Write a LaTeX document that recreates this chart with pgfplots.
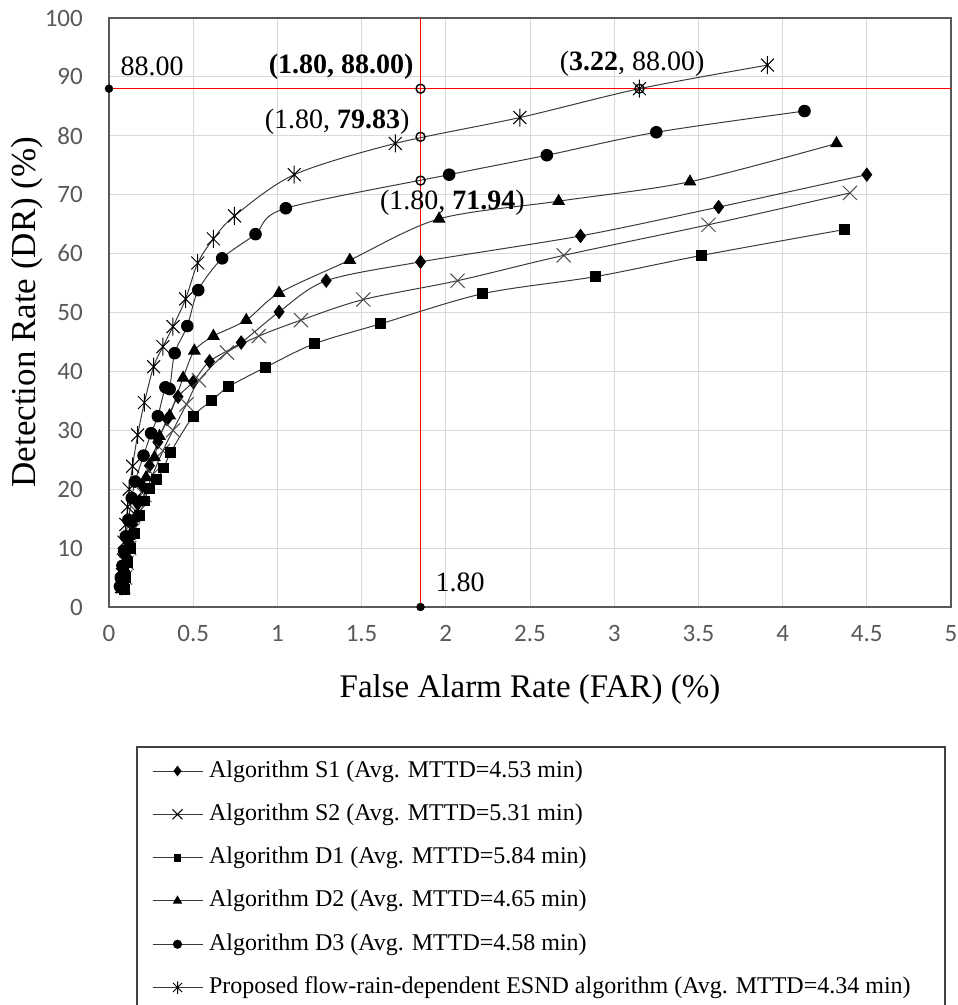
\documentclass[border=0pt]{standalone}
\usepackage{pgfplots}
\pgfplotsset{compat=1.18}
\usepackage{fontspec}
\setmainfont{Liberation Serif}
\newfontfamily\tickfont{Carlito}
\definecolor{tickgray}{HTML}{595959}
\definecolor{gridgray}{HTML}{D9D9D9}
\definecolor{linegray}{HTML}{3A3A3A}
\definecolor{framegray}{HTML}{595959}

\pgfdeclareplotmark{xstar}{%
 \pgfpathmoveto{\pgfqpoint{0pt}{\pgfplotmarksize}}%
 \pgfpathlineto{\pgfqpoint{0pt}{-\pgfplotmarksize}}%
 \pgfpathmoveto{\pgfqpoint{-.72\pgfplotmarksize}{-.72\pgfplotmarksize}}%
 \pgfpathlineto{\pgfqpoint{.72\pgfplotmarksize}{.72\pgfplotmarksize}}%
 \pgfpathmoveto{\pgfqpoint{-.72\pgfplotmarksize}{.72\pgfplotmarksize}}%
 \pgfpathlineto{\pgfqpoint{.72\pgfplotmarksize}{-.72\pgfplotmarksize}}%
 \pgfusepathqstroke}

\begin{document}
\begin{tikzpicture}
\path[use as bounding box] (-109bp,-398bp) rectangle (849bp,607bp);
\begin{axis}[
 scale only axis, width=842bp, height=589bp,
 xmin=0, xmax=5, ymin=0, ymax=100,
 xtick={0,0.5,...,5}, ytick={0,10,...,100},
 grid=major, major grid style={gridgray, line width=1bp},
 axis line style={framegray, line width=1.2bp},
 major tick length=0pt,
 tick label style={font=\tickfont\fontsize{25bp}{25bp}\selectfont, text=tickgray, inner sep=0pt},
 /pgf/number format/assume math mode=true,
 yticklabel style={anchor=east, xshift=-26bp},
 xticklabel style={anchor=north, yshift=-18bp},
 xlabel={False Alarm Rate (FAR) (\%)},
 ylabel={Detection Rate (DR) (\%)},
 xlabel style={at={(rel axis cs:0.5,-0.1409)}, anchor=center, font=\fontsize{33bp}{33bp}\selectfont},
 ylabel style={at={(rel axis cs:-0.0974,0.5008)}, anchor=center, font=\fontsize{35bp}{35bp}\selectfont},
 clip=false,
 legend cell align=left,
 legend style={at={(rel axis cs:0.05107,-0.2598)}, anchor=north west, draw=none, fill=none,
   inner sep=0pt, outer sep=0pt, font=\fontsize{24bp}{24bp}\selectfont,
   row sep=21.3bp, column sep=6bp,
   nodes={inner sep=0pt, text height=17bp, text depth=5bp, anchor=west}},
 legend image code/.code={\draw[mark repeat=2, mark phase=2, #1, mark options={scale=0.7, fill=black, draw=black, solid}] plot coordinates {(0bp,0bp) (25bp,0bp) (50bp,0bp)};},
]
% reference lines
\addplot[red, line width=1.2bp, no marks, forget plot] coordinates {(0,88) (5,88)};
\addplot[red, line width=1.2bp, no marks, forget plot] coordinates {(1.85,0) (1.85,100)};

% S1
\addplot[linegray, line width=1bp, smooth, mark=diamond*, mark size=6.5, mark options={fill=black, draw=black}] coordinates {
(0.085,4)(0.095,6)(0.105,8.5)(0.12,11)(0.14,14)(0.17,17.5)(0.20,20.5)(0.24,24)(0.29,28)(0.345,31.9)(0.41,35.7)(0.50,38.2)(0.597,41.7)(0.785,44.9)(1.01,50.1)(1.29,55.4)(1.85,58.6)(2.80,63.0)(3.62,67.9)(4.50,73.4)};
\addlegendentry{Algorithm S1 (Avg. MTTD=4.53 min)}
% S2
\addplot[linegray, line width=1bp, smooth, mark=x, mark size=10, mark options={draw=black!70, line width=1bp}] coordinates {
(0.085,3.5)(0.095,5)(0.105,7.5)(0.12,10)(0.14,13)(0.17,16)(0.21,19)(0.26,22.5)(0.32,26.5)(0.38,30)(0.46,34.4)(0.535,38.5)(0.70,43.2)(0.89,46.0)(1.14,48.7)(1.51,52.2)(2.07,55.4)(2.70,59.7)(3.56,64.9)(4.40,70.3)};
\addlegendentry{Algorithm S2 (Avg. MTTD=5.31 min)}
% D1
\addplot[linegray, line width=1bp, smooth, mark=square*, mark size=5, mark options={fill=black, draw=black}] coordinates {
(0.09,3)(0.10,5)(0.11,7.5)(0.13,10)(0.15,12.5)(0.18,15.5)(0.21,18)(0.24,20.2)(0.28,21.6)(0.325,23.6)(0.367,26.3)(0.50,32.4)(0.61,35.0)(0.71,37.4)(0.93,40.7)(1.22,44.7)(1.615,48.1)(2.22,53.2)(2.89,56.1)(3.52,59.7)(4.37,64.1)};
\addlegendentry{Algorithm D1 (Avg. MTTD=5.84 min)}
% D2
\addplot[linegray, line width=1bp, smooth, mark=triangle*, mark size=6.5, mark options={fill=black, draw=black}] coordinates {
(0.075,3)(0.08,4.5)(0.09,6.5)(0.10,9)(0.12,12)(0.15,15)(0.18,18)(0.22,22)(0.27,25.4)(0.30,29)(0.36,32.5)(0.44,38.9)(0.507,43.5)(0.62,46.0)(0.815,48.7)(1.01,53.3)(1.43,58.9)(1.96,65.9)(2.67,68.9)(3.45,72.2)(4.32,78.7)};
\addlegendentry{Algorithm D2 (Avg. MTTD=4.65 min)}
% D3
\addplot[linegray, line width=1bp, smooth, mark=*, mark size=5.8, mark options={fill=black, draw=black}] coordinates {
(0.065,3.5)(0.07,5)(0.08,7)(0.09,9.5)(0.10,12)(0.115,14.8)(0.135,18.5)(0.155,21.3)(0.205,25.7)(0.25,29.5)(0.29,32.4)(0.335,37.3)(0.36,37.0)(0.39,43.1)(0.465,47.7)(0.53,53.8)(0.672,59.2)(0.87,63.3)(1.05,67.7)(2.02,73.4)(2.60,76.7)(3.25,80.6)(4.13,84.2)};
\addlegendentry{Algorithm D3 (Avg. MTTD=4.58 min)}
% Proposed
\addplot[linegray, line width=1bp, smooth, mark=xstar, mark size=9, mark options={draw=black, line width=1bp}] coordinates {
(0.075,3.5)(0.08,5.5)(0.085,8)(0.09,11)(0.10,14)(0.11,17)(0.12,20)(0.14,23.9)(0.17,29.2)(0.21,34.7)(0.265,40.8)(0.32,44.2)(0.38,47.6)(0.455,52.3)(0.527,58.4)(0.62,62.5)(0.745,66.4)(1.10,73.4)(1.70,78.7)(2.44,83.1)(3.15,88.0)(3.91,92.0)};
\addlegendentry{Proposed flow-rain-dependent ESND algorithm (Avg. MTTD=4.34 min)}

% highlighted points
\addplot[only marks, mark=o, mark size=4.5, mark options={draw=black, line width=1.4bp, fill=white}, forget plot] coordinates {(1.85,88) (1.85,79.83) (1.85,72.4) (3.15,88)};
\addplot[only marks, mark=*, mark size=4, mark options={fill=black, draw=black}, forget plot] coordinates {(0,88) (1.85,0)};

% annotations
\node[anchor=west, font=\fontsize{28bp}{28bp}\selectfont] at (axis cs:0.048,91.7) {88.00};
\node[anchor=east, font=\fontsize{28bp}{28bp}\selectfont] at (axis cs:1.829,91.7) {\textbf{(1.80, 88.00)}};
\node[anchor=east, font=\fontsize{28bp}{28bp}\selectfont] at (axis cs:1.805,82.3) {(1.80, \textbf{79.83})};
\node[anchor=east, font=\fontsize{28bp}{28bp}\selectfont] at (axis cs:2.49,68.7) {(1.80, \textbf{71.94})};
\node[anchor=east, font=\fontsize{28bp}{28bp}\selectfont] at (axis cs:3.557,92.3) {(\textbf{3.22}, 88.00)};
\node[anchor=west, font=\fontsize{28bp}{28bp}\selectfont] at (axis cs:1.918,4.1) {1.80};

% legend frame
\draw[black!75, line width=1.2bp] (rel axis cs:0.03325,-0.23769) rectangle (rel axis cs:0.99287,-0.6842);
\end{axis}
\end{tikzpicture}
\end{document}
